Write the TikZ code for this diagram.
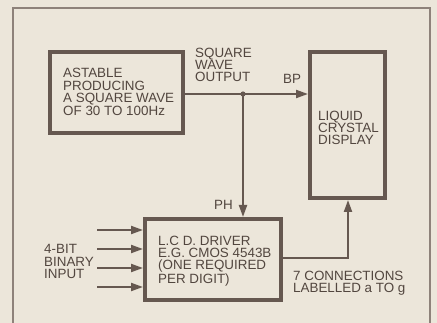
\documentclass[tikz,border=0pt]{standalone}
\usepackage{fontspec}
\setmainfont{Liberation Sans}
\usetikzlibrary{arrows.meta}
\definecolor{paper}{HTML}{ECE6DA}
\definecolor{ink}{HTML}{665850}
\definecolor{txt}{HTML}{52463F}
\definecolor{framec}{HTML}{8E827A}
\tikzset{
  blockbox/.style={draw=ink, line width=4pt, rectangle, inner sep=0pt},
  lbl/.style={anchor=north west, inner sep=0pt, align=left, text=txt,
    font=\fontsize{13.4}{12.4}\selectfont},
  wire/.style={draw=ink, line width=2pt},
  arr/.style={wire, -{Triangle[length=12pt,width=8pt]}},
}
\begin{document}
\begin{tikzpicture}[x=1pt,y=-1pt]
\fill[paper] (0,0) rectangle (437,323);
\useasboundingbox (0,0) rectangle (437,323);
% frame
\draw[framec, line width=1.2pt] (13,323) -- (13,8) -- (430,8) -- (430,323);
% blocks
\node[blockbox, minimum width=133pt, minimum height=81pt] (astable) at (116.5,92.5) {};
\node[blockbox, minimum width=75pt, minimum height=146pt] (lcd) at (347.5,125) {};
\node[blockbox, minimum width=136pt, minimum height=81pt] (driver) at (213,259.5) {};
% labels
\node[lbl] (tastable) at (63,68.3) {ASTABLE\\PRODUCING\\A SQUARE WAVE\\OF 30 TO 100Hz};
\node[lbl] (tlcd) at (318,110.5) {LIQUID\\CRYSTAL\\DISPLAY};
\node[lbl] (tdriver) at (158,235.5) {L.C D. DRIVER\\E.G. CMOS 4543B\\(ONE REQUIRED\\PER DIGIT)};
\node[lbl] (tsq) at (195,47.5) {SQUARE\\WAVE\\OUTPUT};
\node[lbl] (tbp) at (283,74.5) {BP};
\node[lbl] (tph) at (214,200.5) {PH};
\node[lbl] (tin) at (44,244.5) {4-BIT\\BINARY\\INPUT};
\node[lbl] (tout) at (293,270.5) {7 CONNECTIONS\\LABELLED a TO g};
% connectors
\coordinate (j) at (243,94);
\draw[arr] (astable.east |- j) -- (lcd.west |- j);
\fill[ink] (j) circle (2.6pt);
\draw[arr] (j) -- (j |- driver.north);
\coordinate (in1) at (97,230);
\coordinate (in2) at (97,249);
\coordinate (in3) at (97,268);
\coordinate (in4) at (97,287);
\foreach \i in {1,2,3,4} \draw[arr] (in\i) -- (driver.west |- in\i);
\coordinate (o) at (348,258);
\draw[arr] (driver.east |- o) -- (o) -- (o |- lcd.south);
\end{tikzpicture}
\end{document}
